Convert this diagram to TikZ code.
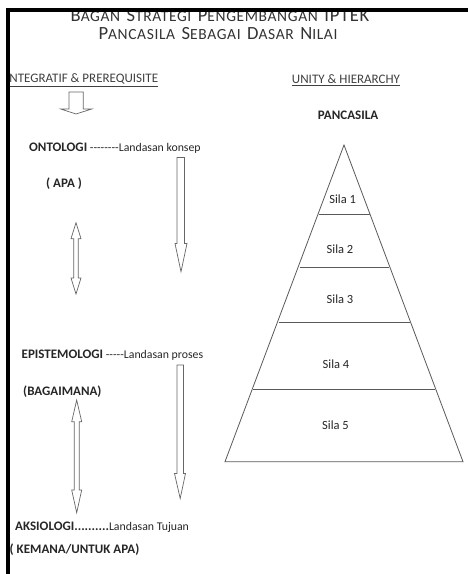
\documentclass[tikz,border=0pt]{standalone}
\usepackage{fontspec}
\setmainfont{Carlito}[Ligatures=TeXOff]
\newcommand\bigsc[2]{{\fontsize{18.6}{20}\selectfont #1}{\fontsize{15.5}{18}\selectfont #2}}
\newcommand\tsp{\hspace{6.5pt}}
\begin{document}
\begin{tikzpicture}[x=1pt,y=-1pt,
  txt/.style={inner sep=0pt,text=black!85,font=\fontsize{11.8}{13}\selectfont},
  btxt/.style={txt,font=\fontsize{13}{15}\selectfont\bfseries},
  silatxt/.style={txt,font=\fontsize{12.5}{14}\selectfont},
  head/.style={txt,text=black!75,font=\fontsize{13}{15}\selectfont},
  titletxt/.style={inner sep=0pt,text=black!80,anchor=base,font=\addfontfeature{LetterSpace=4}},
  blockarrow/.style={draw=black!60,line width=0.7pt,fill=white,line join=miter},
  pyr/.style={draw=black!65,line width=0.8pt},
  frame/.style={line width=4pt,draw=black}]
\useasboundingbox (0,0) rectangle (468,574);
% title
\node[titletxt] (t1) at (220,21.7) {\bigsc{B}{AGAN}\tsp\bigsc{S}{TRATEGI}\tsp\bigsc{P}{ENGEMBANGAN}\tsp\bigsc{IPTEK}{}};
\node[titletxt] (t2) at (218,39.3) {\bigsc{P}{ANCASILA}\tsp\bigsc{S}{EBAGAI}\tsp\bigsc{D}{ASAR}\tsp\bigsc{N}{ILAI}};
% headings
\node[head,anchor=west] (h1) at (6,80) {\underline{INTEGRATIF \& PREREQUISITE}};
\node[head,anchor=center] (h2) at (346,80) {\underline{UNITY \& HIERARCHY}};
\node[btxt] (pc) at (348,115) {PANCASILA};
% small down arrow
\draw[blockarrow] (69,92) -- (83.3,92) -- (83.3,109) -- (91.7,109) -- (76,114) -- (60.7,109) -- (69,109) -- cycle;
% left texts
\node[txt,anchor=west] (onto) at (29,148) {{\bfseries\fontsize{13}{15}\selectfont ONTOLOGI} --------Landasan konsep};
\node[btxt,anchor=west] (apa) at (46,183.5) {( APA )};
\node[txt,anchor=west] (epis) at (21.5,355) {{\bfseries\fontsize{13}{15}\selectfont EPISTEMOLOGI} -----Landasan proses};
\node[btxt,anchor=west] (baga) at (23,392) {(BAGAIMANA)};
\node[txt,anchor=west] (aksi) at (15,527) {{\bfseries\fontsize{13}{15}\selectfont AKSIOLOGI..........}Landasan Tujuan};
\node[btxt,anchor=west] (kema) at (9.5,550) {( KEMANA/UNTUK APA)};
% double arrow 1
\draw[blockarrow] (76,222.7) -- (81,238.7) -- (78.3,238.7) -- (78.3,278) -- (81,278) -- (76,294) -- (71,278) -- (73.7,278) -- (73.7,238.7) -- (71,238.7) -- cycle;
% down arrow 1
\draw[blockarrow] (177,157.5) -- (184.5,157.5) -- (184.5,243.5) -- (187,243.5) -- (181,271.7) -- (175,243.5) -- (177,243.5) -- cycle;
% double arrow 2
\draw[blockarrow] (76.7,400) -- (81.7,421.7) -- (79.2,421.7) -- (79.2,490) -- (81.7,490) -- (76.7,512.7) -- (71.7,490) -- (74.2,490) -- (74.2,421.7) -- (71.7,421.7) -- cycle;
% down arrow 2
\draw[blockarrow] (177,365) -- (183.5,365) -- (183.5,473.5) -- (185.5,473.5) -- (180.2,498.5) -- (174.5,473.5) -- (177,473.5) -- cycle;
% pyramid
\coordinate (apex) at (344,145);
\coordinate (bl) at (225,461.7);
\coordinate (br) at (463,461.7);
\draw[pyr] (apex) -- (br) -- (bl) -- cycle;
\draw[pyr] (318.5,214.3) -- (369.5,214.3);
\draw[pyr] (299.5,267) -- (388.5,267);
\draw[pyr] (278.5,322.3) -- (409.5,322.3);
\draw[pyr] (253,389.3) -- (435,389.3);
\node[silatxt] (s1) at (342.7,199.5) {Sila 1};
\node[silatxt] (s2) at (340,249) {Sila 2};
\node[silatxt] (s3) at (340,299) {Sila 3};
\node[silatxt] (s4) at (336,364.5) {Sila 4};
\node[silatxt] (s5) at (335.5,425) {Sila 5};
% frame
\draw[frame] (8,574) -- (8,10) -- (468,10);
\end{tikzpicture}
\end{document}
